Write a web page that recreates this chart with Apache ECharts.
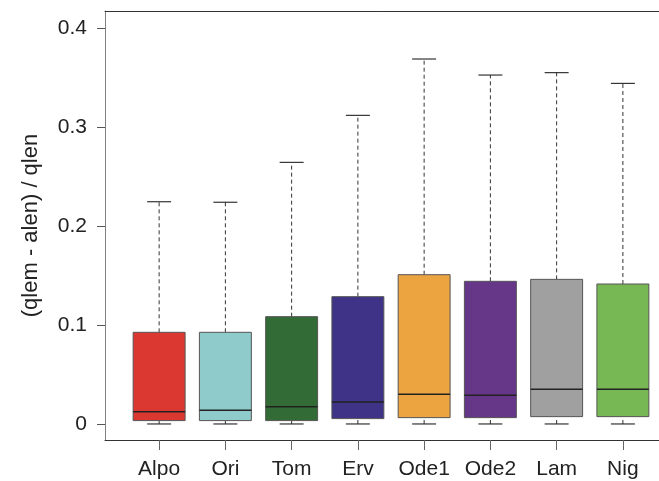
<!DOCTYPE html>
<html>
<head>
<meta charset="utf-8">
<script src="https://cdn.jsdelivr.net/npm/echarts@6/dist/echarts.min.js"></script>
<style>
  html, body { margin: 0; padding: 0; background: #fff; }
  #chart { width: 659px; height: 481px; }
</style>
</head>
<body>
<div id="chart"></div>
<script>
// data
const categories = ['Alpo', 'Ori', 'Tom', 'Erv', 'Ode1', 'Ode2', 'Lam', 'Nig']
const lowValues = [0, 0, 0, 0, 0, 0, 0, 0]
const q1Values = [0.0034, 0.0034, 0.0034, 0.0054, 0.0064, 0.0064, 0.0074, 0.0074]
const medianValues = [0.0124, 0.0138, 0.0175, 0.0222, 0.030, 0.029, 0.035, 0.035]
const q3Values = [0.0926, 0.0926, 0.1084, 0.1286, 0.1508, 0.1441, 0.1461, 0.1414]
const highValues = [0.2245, 0.224, 0.2643, 0.3118, 0.3687, 0.3525, 0.3549, 0.3441]
const boxColors = ['#dc3832', '#90cbcb', '#326b35', '#3f3388', '#eca441', '#663689', '#a0a0a1', '#77b855']
const yTicks = [0, 0.1, 0.2, 0.3, 0.4]

const yMin = -0.0162
const yMax = 0.4172
const font = "'Liberation Sans', Arial, sans-serif"

const boxData = categories.map((c, i) => [i, lowValues[i], q1Values[i], medianValues[i], q3Values[i], highValues[i]])

function renderBox(params, api) {
  const x = api.value(0)
  const pLow = api.coord([x, api.value(1)])
  const pQ1 = api.coord([x, api.value(2)])
  const pMed = api.coord([x, api.value(3)])
  const pQ3 = api.coord([x, api.value(4)])
  const pHigh = api.coord([x, api.value(5)])
  const band = api.size([1, 0])[0]
  const cx = pMed[0]
  const hw = band * 0.392
  const cw = band * 0.181
  const dash = { stroke: '#333', lineWidth: 1, lineDash: [4, 3] }
  const solid = { stroke: '#222', lineWidth: 1.1 }
  return {
    type: 'group',
    children: [
      { type: 'line', shape: { x1: cx, y1: pQ3[1], x2: cx, y2: pHigh[1] }, style: dash },
      { type: 'line', shape: { x1: cx, y1: pLow[1], x2: cx, y2: pQ1[1] }, style: dash },
      { type: 'line', shape: { x1: cx - cw, y1: pHigh[1], x2: cx + cw, y2: pHigh[1] }, style: solid },
      { type: 'line', shape: { x1: cx - cw, y1: pLow[1], x2: cx + cw, y2: pLow[1] }, style: solid },
      {
        type: 'rect',
        shape: { x: cx - hw, y: pQ3[1], width: hw * 2, height: pQ1[1] - pQ3[1] },
        style: { fill: boxColors[params.dataIndex], stroke: '#555', lineWidth: 1 },
      },
      { type: 'line', shape: { x1: cx - hw, y1: pMed[1], x2: cx + hw, y2: pMed[1] }, style: { stroke: '#222', lineWidth: 1.5 } },
    ],
  }
}

const chart = echarts.init(document.getElementById('chart'))
chart.setOption({
  animation: false,
  grid: [
    { left: 105, top: 11, width: 575, height: 429 },
    { left: 126, top: 11, width: 530, height: 429 },
  ],
  xAxis: [
    {
      gridIndex: 0, type: 'value', min: 0, max: 1, position: 'bottom',
      axisLine: { show: true, onZero: false, lineStyle: { color: '#333', width: 1 } },
      axisTick: { show: false }, axisLabel: { show: false }, splitLine: { show: false },
    },
    {
      gridIndex: 0, type: 'value', min: 0, max: 1, position: 'top',
      axisLine: { show: true, onZero: false, lineStyle: { color: '#333', width: 1 } },
      axisTick: { show: false }, axisLabel: { show: false }, splitLine: { show: false },
    },
    {
      gridIndex: 1, type: 'category', data: categories, position: 'bottom',
      axisLine: { show: false, onZero: false },
      axisTick: { show: true, alignWithLabel: true, interval: 0, length: 10, lineStyle: { color: '#666' } },
      axisLabel: { margin: 19, interval: 0, fontSize: 21, color: '#222', fontFamily: font },
      splitLine: { show: false },
    },
  ],
  yAxis: [
    {
      gridIndex: 0, type: 'value', min: yMin, max: yMax,
      name: '(qlem - alen) / qlen', nameLocation: 'middle', nameGap: 63,
      nameTextStyle: { fontSize: 22, color: '#222', fontFamily: font },
      axisLine: { show: true, onZero: false, lineStyle: { color: '#808080', width: 1 } },
      axisTick: { show: true, length: 8, customValues: yTicks, lineStyle: { color: '#555' } },
      axisLabel: {
        margin: 18, fontSize: 21, color: '#222', fontFamily: font,
        customValues: yTicks,
        formatter: (v) => (v === 0 ? '0' : v.toFixed(1)),
      },
      splitLine: { show: false },
    },
    {
      gridIndex: 1, type: 'value', min: yMin, max: yMax, show: false,
    },
  ],
  series: [
    {
      type: 'custom',
      xAxisIndex: 2,
      yAxisIndex: 1,
      renderItem: renderBox,
      encode: { x: 0, y: [1, 2, 3, 4, 5] },
      data: boxData,
    },
  ],
})
</script>
</body>
</html>
